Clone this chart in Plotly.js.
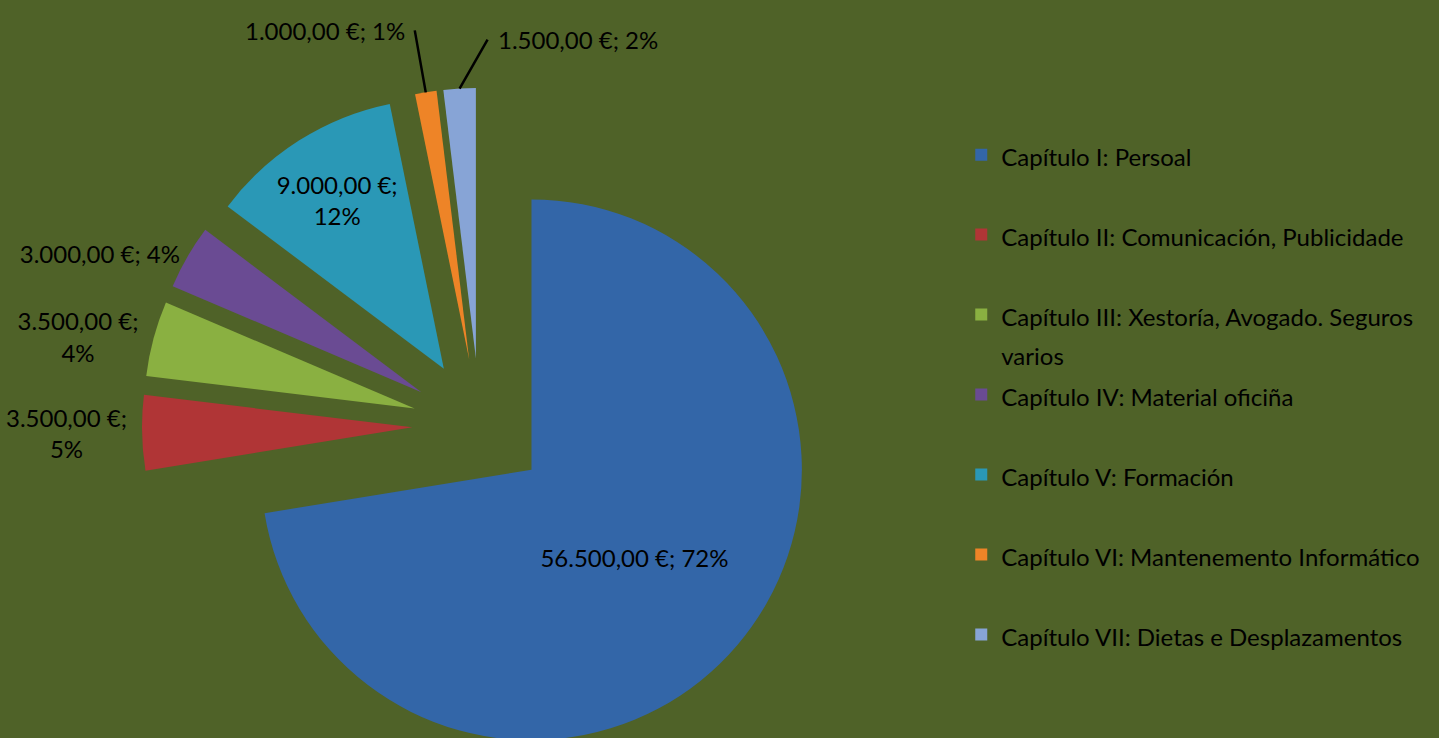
<!DOCTYPE html>
<html><head><meta charset="utf-8">
<script src="https://cdn.plot.ly/plotly-3.0.1.min.js"></script>
<style>html,body{margin:0;padding:0;overflow:hidden;background:#4F6228;} #chart{width:1439px;height:764px;}</style>
</head><body><div id="chart"></div>
<script>
const categories = [
  "Capítulo I: Persoal",
  "Capítulo II: Comunicación, Publicidade",
  "Capítulo III: Xestoría, Avogado. Seguros varios",
  "Capítulo IV: Material oficiña",
  "Capítulo V: Formación",
  "Capítulo VI: Mantenemento Informático",
  "Capítulo VII: Dietas e Desplazamentos"
];
const amounts = [56500, 3500, 3500, 3000, 9000, 1000, 1500];
const percentLabels = ["72%", "5%", "4%", "4%", "12%", "1%", "2%"];
const labelBreaks = [false, true, true, false, true, false, false];
const colors = ["#3366A8", "#B03536", "#8AB041", "#6A4B93", "#2A98B6", "#EE8427", "#87A4D6"];

// layout constants
const W = 1439, H = 764, MT = 88;
const DOM_X = [0.0986, 0.5685];
const PULL = 0.25;
const FS = 24;

function wrap(s, max) {
  if (s.length <= max) return [s];
  const cut = s.lastIndexOf(" ", max);
  return [s.slice(0, cut), s.slice(cut + 1)];
}
function fmt(v) {
  const [i, d] = v.toFixed(2).split(".");
  return i.replace(/\B(?=(\d{3})+(?!\d))/g, ".") + "," + d;
}
const span = t => "<span style='font-size:" + FS + "px'>" + t + "</span>";
const legendLabels = categories.map(c => {
  const lines = wrap(c, 40);
  return lines.map(span).join("<br>") + (lines.length === 1 ? "<br>\u00a0" : "");
});
const templates = labelBreaks.map(b => b ? "%{value:,.2f} €;<br>%{customdata}" : "%{value:,.2f} €; %{customdata}");
// small top slices get leader-line callouts instead of plotly's automatic outside text
const calloutTail = { 5: { ax: -11, ay: -62, anchor: "right" }, 6: { ax: 28, ay: -49, anchor: "left" } };
const positions = amounts.map((v, i) => calloutTail[i] ? "none" : (i === 0 || i === 4 ? "inside" : "outside"));

const trace = {
  type: "pie",
  labels: legendLabels,
  values: amounts,
  customdata: percentLabels,
  texttemplate: templates,
  textposition: positions,
  insidetextorientation: "horizontal",
  sort: false,
  direction: "clockwise",
  rotation: 0,
  pull: amounts.map(() => PULL),
  marker: { colors: colors, line: { width: 0 } },
  textfont: { family: "Lato, sans-serif", size: FS, color: "#000" },
  domain: { x: DOM_X, y: [0, 1] },
  hoverinfo: "none"
};

// pie geometry (same rule plotly uses) to locate the slice tips for the callouts
const plotH = H - MT;
const boxW = W * (DOM_X[1] - DOM_X[0]);
const R = Math.min(boxW / 2, plotH / 2) / (1 + PULL);
const CX = W * (DOM_X[0] + DOM_X[1]) / 2;
const CY = MT + plotH / 2;
const total = amounts.reduce((a, b) => a + b, 0);
const annotations = [];
let cum = 0;
amounts.forEach((v, i) => {
  const mid = (cum + v / 2) / total * 2 * Math.PI;
  cum += v;
  const c = calloutTail[i];
  if (!c) return;
  const px = CX + (1 + PULL) * R * Math.sin(mid);
  const py = CY - (1 + PULL) * R * Math.cos(mid);
  annotations.push({
    xref: "paper", yref: "paper",
    x: px / W, y: 1 - (py - MT) / plotH,
    text: fmt(v) + " €; " + percentLabels[i],
    showarrow: true, arrowhead: 0, arrowwidth: 2.5, arrowcolor: "#000",
    ax: c.ax, ay: c.ay, standoff: 0, startstandoff: 0,
    xanchor: c.anchor, yanchor: "middle", borderpad: 9,
    font: { family: "Lato, sans-serif", size: FS, color: "#000" }
  });
});

const layout = {
  width: W, height: H,
  margin: { l: 0, r: 0, t: MT, b: 0 },
  paper_bgcolor: "#4F6228",
  plot_bgcolor: "#4F6228",
  separators: ",.",
  showlegend: true,
  font: { family: "Lato, sans-serif", color: "#000" },
  annotations: annotations,
  legend: {
    x: 0.668, xanchor: "left",
    y: 0.9395, yanchor: "top",
    valign: "top",
    font: { family: "Lato, sans-serif", size: 29.6, color: "#000" },
    bgcolor: "rgba(0,0,0,0)",
    traceorder: "normal"
  }
};

Plotly.newPlot("chart", [trace], layout, { displayModeBar: false, staticPlot: true });
</script>
</body></html>
